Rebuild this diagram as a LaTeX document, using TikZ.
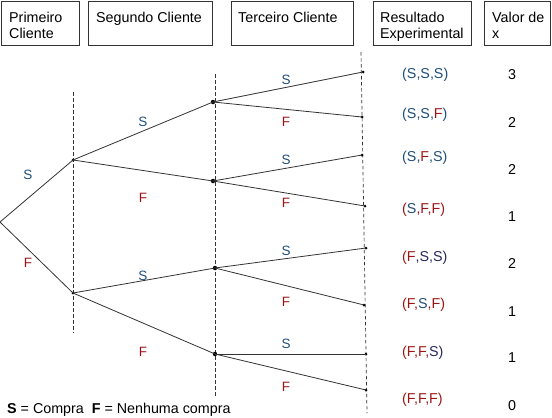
\documentclass[tikz,border=0pt]{standalone}
\usepackage{fontspec}
\setmainfont{Liberation Sans}
\definecolor{sblue}{HTML}{1F4E79}
\definecolor{navy}{HTML}{26285E}
\definecolor{fred}{HTML}{9C1515}
\definecolor{edgec}{HTML}{333333}
\begin{document}
\begin{tikzpicture}[x=1pt,y=-1pt,
  hbox/.style={draw=edgec,line width=0.9pt,anchor=north west,inner sep=0pt},
  htext/.style={anchor=north west,align=left,inner sep=0pt,font=\fontsize{14.3}{16}\selectfont},
  lbl/.style={font=\fontsize{13.5}{16}\selectfont,inner sep=0pt},
  outc/.style={anchor=west,font=\fontsize{14.3}{16}\selectfont,inner sep=0pt},
  val/.style={font=\fontsize{14.3}{16}\selectfont,inner sep=0pt},
  bigdot/.style={circle,fill=black,inner sep=0pt,minimum size=4.5pt},
  smalldot/.style={circle,fill=black,inner sep=0pt,minimum size=3pt},
  br/.style={draw=edgec,line width=0.8pt},
  guide/.style={draw=edgec,line width=0.7pt,dash pattern=on 3.5pt off 2.5pt}]
\useasboundingbox (0,0) rectangle (552,418);
% header boxes
\node[hbox,minimum width=78pt,minimum height=44pt] (h1) at (1,0.5) {};
\node[hbox,minimum width=124pt,minimum height=44pt] (h2) at (88,0.5) {};
\node[hbox,minimum width=122pt,minimum height=44pt] (h3) at (231,0.5) {};
\node[hbox,minimum width=98pt,minimum height=44pt] (h4) at (373,0.5) {};
\node[hbox,minimum width=66pt,minimum height=44pt] (h5) at (484,0.5) {};
\node[htext] (t1) at (9,11.5) {Primeiro\\Cliente};
\node[htext] (t2) at (96,11.5) {Segundo Cliente};
\node[htext] (t3) at (238,11.5) {Terceiro Cliente};
\node[htext] (t4) at (380,11.5) {Resultado\\Experimental};
\node[htext] (t5) at (492,11.5) {Valor de\\x};
% dashed guides
\coordinate (g1a) at (73,92); \coordinate (g1b) at (73,333);
\coordinate (g2a) at (215,74); \coordinate (g2b) at (215,397);
\coordinate (g3a) at (361,52); \coordinate (g3b) at (367,413);
\draw[guide] (g1a) -- (g1b);
\draw[guide] (g2a) -- (g2b);
\draw[guide] (g3a) -- (g3b);
% tree nodes
\coordinate (r) at (0,222);
\node[smalldot] (a1) at (73,160) {};
\node[smalldot] (a2) at (73,293) {};
\node[bigdot] (b1) at (213,102) {};
\node[bigdot] (b2) at (213,181) {};
\node[bigdot] (b3) at (215,268) {};
\node[bigdot] (b4) at (215,354) {};
\node[smalldot] (c1) at (363,72) {};
\node[smalldot] (c2) at (362,117) {};
\node[smalldot] (c3) at (362,155) {};
\node[smalldot] (c4) at (365,206) {};
\node[smalldot] (c5) at (366,248) {};
\node[smalldot] (c6) at (364,305) {};
\node[smalldot] (c7) at (366,354) {};
\node[smalldot] (c8) at (366,390) {};
% branches
\draw[br] (r) -- (a1.center);
\draw[br] (r) -- (a2.center);
\draw[br] (a1.center) -- (b1.center);
\draw[br] (a1.center) -- (b2.center);
\draw[br] (a2.center) -- (b3.center);
\draw[br] (a2.center) -- (b4.center);
\draw[br] (b1.center) -- (c1.center);
\draw[br] (b1.center) -- (c2.center);
\draw[br] (b2.center) -- (c3.center);
\draw[br] (b2.center) -- (c4.center);
\draw[br] (b3.center) -- (c5.center);
\draw[br] (b3.center) -- (c6.center);
\draw[br] (b4.center) -- (c7.center);
\draw[br] (b4.center) -- (c8.center);
% branch labels
\node[lbl,text=sblue] (l1) at (28,175) {S};
\node[lbl,text=fred] (l2) at (28,263) {F};
\node[lbl,text=sblue] (l3) at (143,122) {S};
\node[lbl,text=fred] (l4) at (143,198) {F};
\node[lbl,text=sblue] (l5) at (143,276) {S};
\node[lbl,text=fred] (l6) at (143,352) {F};
\node[lbl,text=sblue] (m1) at (286,80) {S};
\node[lbl,text=fred] (m2) at (286,122) {F};
\node[lbl,text=sblue] (m3) at (286,160) {S};
\node[lbl,text=fred] (m4) at (286,203) {F};
\node[lbl,text=sblue] (m5) at (286,251) {S};
\node[lbl,text=fred] (m6) at (286,302) {F};
\node[lbl,text=sblue] (m7) at (286,344) {S};
\node[lbl,text=fred] (m8) at (286,387) {F};
% outcomes
\node[outc,text=sblue] (o1) at (402,75) {(S,S,S)};
\node[outc,text=sblue] (o2) at (402,115) {(S,S,\textcolor{fred}{F})};
\node[outc,text=sblue] (o3) at (402,158) {(S,\textcolor{fred}{F},S)};
\node[outc,text=fred] (o4) at (402,210) {(\textcolor{sblue}{S},F,F)};
\node[outc,text=navy] (o5) at (402,258) {\textcolor{fred}{(F},S,S)};
\node[outc,text=fred] (o6) at (402,305) {(F,\textcolor{sblue}{S},F)};
\node[outc,text=fred] (o7) at (402,353) {(F,F,\textcolor{navy}{S)}};
\node[outc,text=fred] (o8) at (402,400) {(F,F,F)};
% values
\node[val] (v1) at (512,75) {3};
\node[val] (v2) at (512,123) {2};
\node[val] (v3) at (512,170) {2};
\node[val] (v4) at (512,217) {1};
\node[val] (v5) at (512,264) {2};
\node[val] (v6) at (512,312) {1};
\node[val] (v7) at (512,358) {1};
\node[val] (v8) at (512,406) {0};
% legend
\node[anchor=west,inner sep=0pt,font=\fontsize{14.3}{16}\selectfont] (leg) at (7,410) {\textbf{S} = Compra\ \ \textbf{F} = Nenhuma compra};
\end{tikzpicture}
\end{document}
